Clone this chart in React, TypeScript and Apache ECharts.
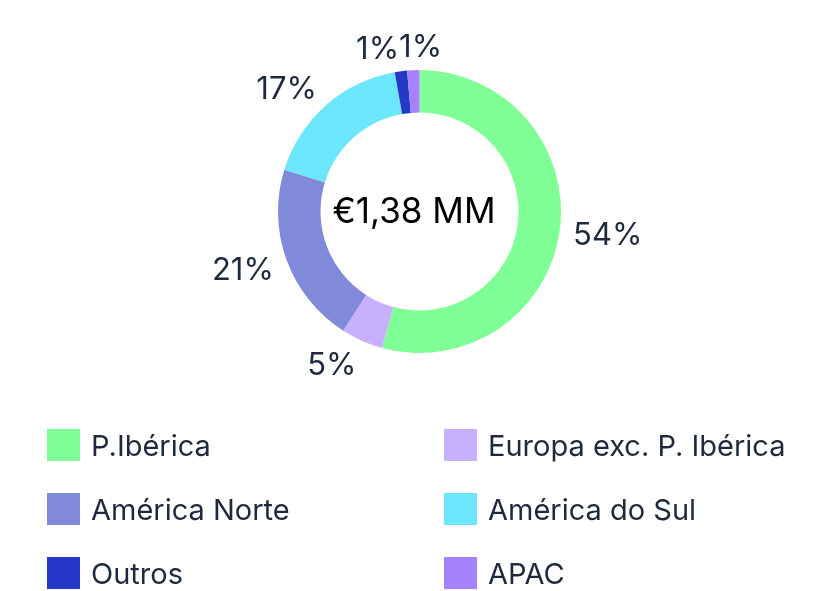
import React, { useEffect, useRef } from "react";
import * as echarts from "echarts";

const categories = ["P.Ibérica", "Europa exc. P. Ibérica", "América Norte", "América do Sul", "Outros", "APAC"];
const shares = [54.2, 4.8, 20.7, 17.4, 1.4, 1.4];
const colors = ["#80FF97", "#C7B1FF", "#808AD9", "#6BE6FB", "#2638C8", "#A682FF"];
const centerLabel = "€1,38 MM";
const leftLegend = ["P.Ibérica", "América Norte", "Outros"];
const rightLegend = ["Europa exc. P. Ibérica", "América do Sul", "APAC"];

const CX = 419.5;
const CY = 211.5;
const R_OUT = 141.5;
const R_IN = 99;
const LABEL_R = 155;
const FONT = "Inter, 'Noto Sans', sans-serif";
const TEXT_COLOR = "#1E2A3C";

export default function App() {
  const ref = useRef<HTMLDivElement>(null);
  useEffect(() => {
    if (!ref.current) return;
    const chart = echarts.init(ref.current, null, { renderer: "svg" });
    const total = shares.reduce((a, b) => a + b, 0);
    const midAngle = (i: number) => {
      let acc = 0;
      for (let k = 0; k < i; k++) acc += shares[k];
      const frac = (acc + shares[i] / 2) / total;
      return frac * Math.PI * 2; // clockwise from top
    };
    const legendBase = {
      orient: "vertical",
      top: 429,
      padding: 0,
      itemWidth: 33,
      itemHeight: 32,
      itemGap: 32,
      icon: "rect",
      selectedMode: false,
      textStyle: { fontSize: 29, fontFamily: FONT, color: TEXT_COLOR, padding: [0, 0, 0, 6] },
    };
    chart.setOption({
      animation: false,
      color: colors,
      graphic: [
        {
          type: "text",
          x: 414,
          y: 210,
          style: {
            text: centerLabel,
            align: "center",
            verticalAlign: "middle",
            fontSize: 35,
            fontFamily: FONT,
            fill: "#000000",
          },
        },
      ],
      legend: [
        { ...legendBase, data: leftLegend, left: 47 },
        { ...legendBase, data: rightLegend, left: 444 },
      ],
      series: [
        {
          type: "pie",
          center: [CX, CY],
          radius: [R_IN, R_OUT],
          startAngle: 90,
          clockwise: true,
          avoidLabelOverlap: false,
          silent: true,
          itemStyle: { borderWidth: 0 },
          label: {
            show: true,
            position: "outside",
            formatter: (p: any) => Math.round(p.percent) + "%",
            fontSize: 31,
            fontFamily: FONT,
            color: TEXT_COLOR,
          },
          labelLine: { show: false },
          labelLayout: (p: any) => {
            const a = midAngle(p.dataIndex);
            const dx = Math.sin(a);
            const dy = -Math.cos(a);
            const h = p.labelRect.height * 0.7;
            const out: any = {
              x: CX + dx * LABEL_R,
              y: CY + dy * LABEL_R + (dy * h) / 2,
              align: dx < 0 ? "right" : "left",
              verticalAlign: "middle",
            };
            if (Math.abs(dx) < 0.3 && dy < 0) out.moveOverlap = "shiftX";
            return out;
          },
          data: categories.map((name, i) => ({ name, value: shares[i] })),
        },
      ],
    });
    return () => chart.dispose();
  }, []);
  return <div ref={ref} style={{ position: "fixed", left: 0, top: 0, width: 834, height: 591 }} />;
}
